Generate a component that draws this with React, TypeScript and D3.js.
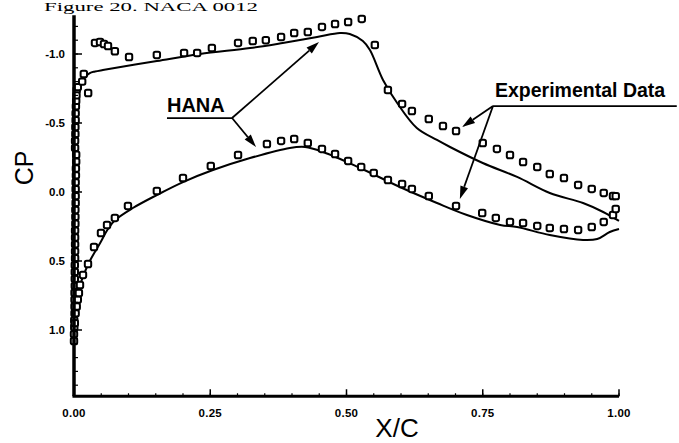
import React from "react";
import * as d3 from "d3";

// ---------- data ----------
// HANA computation, upper surface (suction side)
const hanaUpperX = [0, 0.001, 0.002, 0.004, 0.007, 0.013, 0.02, 0.029, 0.0385, 0.053, 0.152, 0.231, 0.323, 0.383, 0.446, 0.488, 0.506, 0.53, 0.543, 0.567, 0.593, 0.629, 0.666, 0.69, 0.75, 0.813, 0.873, 0.934, 0.971, 1.0];
const hanaUpperCp = [1.0, 0.42, -0.087, -0.52, -0.7, -0.78, -0.833, -0.862, -0.873, -0.884, -0.949, -1.0, -1.043, -1.08, -1.123, -1.152, -1.145, -1.094, -1.029, -0.812, -0.645, -0.464, -0.377, -0.326, -0.21, -0.109, 0.007, 0.08, 0.145, 0.21];
// HANA computation, lower surface
const hanaLowerX = [0, 0.002, 0.0055, 0.015, 0.029, 0.048, 0.062, 0.075, 0.108, 0.152, 0.2, 0.255, 0.323, 0.396, 0.424, 0.457, 0.525, 0.598, 0.666, 0.721, 0.782, 0.813, 0.873, 0.934, 0.96, 0.983, 1.0];
const hanaLowerCp = [1.0, 0.89, 0.76, 0.63, 0.50, 0.37, 0.27, 0.205, 0.116, 0.022, -0.072, -0.159, -0.246, -0.319, -0.326, -0.29, -0.174, -0.036, 0.08, 0.167, 0.239, 0.254, 0.312, 0.348, 0.341, 0.29, 0.268];

// Experimental data, upper surface: leading-edge cluster along the axis
const expUpperLEX = [0.0, 0.0, 0.0005, 0.0005, 0.001, 0.001, 0.001, 0.001, 0.0015, 0.0015, 0.0015, 0.0015, 0.002, 0.002, 0.002, 0.002, 0.002, 0.0025, 0.0025, 0.0025, 0.003, 0.003, 0.003, 0.003, 0.0035, 0.0035, 0.004, 0.004, 0.005, 0.007, 0.015, 0.018, 0.026];
const expUpperLECp = [1.08, 1.03, 0.98, 0.93, 0.88, 0.83, 0.78, 0.73, 0.68, 0.63, 0.58, 0.53, 0.48, 0.43, 0.38, 0.33, 0.28, 0.23, 0.18, 0.13, 0.08, 0.03, -0.02, -0.07, -0.12, -0.17, -0.22, -0.27, -0.74, -0.76, -0.8, -0.855, -0.717];
// extra suction-peak cluster close to the axis
const expUpperLE2X = [0.002, 0.002, 0.0025, 0.0025, 0.003, 0.003, 0.0035, 0.004, 0.0045];
const expUpperLE2Cp = [-0.32, -0.37, -0.42, -0.47, -0.52, -0.57, -0.62, -0.66, -0.70];
// Experimental data, upper surface downstream
const expUpperX = [0.0385, 0.0477, 0.055, 0.0624, 0.075, 0.101, 0.152, 0.202, 0.226, 0.253, 0.301, 0.328, 0.352, 0.38, 0.404, 0.429, 0.455, 0.479, 0.503, 0.528, 0.552, 0.576, 0.602, 0.62, 0.651, 0.677, 0.701, 0.75, 0.776, 0.8, 0.824, 0.85, 0.873, 0.899, 0.925, 0.95, 0.972, 0.989, 0.994];
const expUpperCp = [-1.08, -1.087, -1.072, -1.058, -1.02, -0.978, -0.993, -1.007, -1.007, -1.043, -1.08, -1.094, -1.1, -1.123, -1.152, -1.159, -1.196, -1.217, -1.232, -1.254, -1.065, -0.739, -0.638, -0.587, -0.529, -0.478, -0.442, -0.355, -0.312, -0.268, -0.217, -0.181, -0.13, -0.101, -0.051, -0.022, 0.007, 0.029, 0.03];

// Experimental data, lower surface
const expLowerX = [0.0015, 0.003, 0.005, 0.007, 0.009, 0.011, 0.0165, 0.0257, 0.0367, 0.0495, 0.0606, 0.075, 0.099, 0.152, 0.2, 0.251, 0.301, 0.354, 0.38, 0.404, 0.429, 0.455, 0.479, 0.503, 0.527, 0.55, 0.576, 0.602, 0.62, 0.651, 0.701, 0.749, 0.774, 0.8, 0.824, 0.85, 0.873, 0.899, 0.925, 0.95, 0.972, 0.989, 0.994];
const expLowerCp = [0.95, 0.88, 0.83, 0.78, 0.732, 0.674, 0.601, 0.522, 0.399, 0.297, 0.239, 0.188, 0.101, -0.007, -0.101, -0.188, -0.268, -0.348, -0.37, -0.384, -0.355, -0.312, -0.275, -0.225, -0.181, -0.138, -0.087, -0.058, -0.022, 0.029, 0.101, 0.152, 0.188, 0.217, 0.225, 0.246, 0.261, 0.268, 0.275, 0.254, 0.217, 0.167, 0.123];

// axes
const xTickValues = [0, 0.25, 0.5, 0.75, 1.0];
const xTickLabels = ["0.00", "0.25", "0.50", "0.75", "1.00"];
const yTickValues = [-1.0, -0.5, 0.0, 0.5, 1.0];
const yTickLabels = ["-1.0", "-0.5", "0.0", "0.5", "1.0"];

// annotation anchors (data units)
const hanaLabel = { x: 0.1706, cp: -0.58, text: "HANA" };
const hanaBar = { x0: 0.1706, x1: 0.29, cp: -0.536 };
const hanaTips = [{ x: 0.4495, cp: -1.087 }, { x: 0.334, cp: -0.326 }];
const expLabel = { x: 0.7725, cp: -0.688, text: "Experimental Data" };
const expBar = { x0: 0.7688, x1: 1.106, cp: -0.623 };
const expTips = [{ x: 0.712, cp: -0.471 }, { x: 0.708, cp: 0.051 }];
const caption = "Figure 20. NACA 0012";

const W = 679, H = 443;

export default function App() {
  const x = d3.scaleLinear().domain([0, 1]).range([74, 619]);
  const y = d3.scaleLinear().domain([-1, 1]).range([54, 330]);
  const yTop = -1.28, yBot = 1.48;

  const line = d3.line<[number, number]>()
    .x(d => x(d[0])).y(d => y(d[1]))
    .curve(d3.curveCatmullRom.alpha(0.5));

  const up = hanaUpperX.map((v, i) => [v, hanaUpperCp[i]] as [number, number]);
  const lo = hanaLowerX.map((v, i) => [v, hanaLowerCp[i]] as [number, number]);

  const pts: [number, number][] = [
    ...expUpperLEX.map((v, i) => [v, expUpperLECp[i]] as [number, number]),
    ...expUpperLE2X.map((v, i) => [v, expUpperLE2Cp[i]] as [number, number]),
    ...expUpperX.map((v, i) => [v, expUpperCp[i]] as [number, number]),
    ...expLowerX.map((v, i) => [v, expLowerCp[i]] as [number, number]),
  ];

  const xMinor = d3.range(0, 1.0001, 0.05);
  const yMinor = d3.range(-1.2, 1.41, 0.1);

  const arrow = (x0: number, y0: number, x1: number, y1: number, key: string) => {
    const dx = x1 - x0, dy = y1 - y0;
    const L = Math.hypot(dx, dy);
    const ux = dx / L, uy = dy / L;
    const hl = 13, hw = 4;
    const bx = x1 - ux * hl, by = y1 - uy * hl;
    const p = `M${bx + -uy * hw},${by + ux * hw}L${x1},${y1}L${bx - -uy * hw},${by - ux * hw}Z`;
    return (
      <g key={key}>
        <line x1={x0} y1={y0} x2={bx} y2={by} stroke="#000" strokeWidth={1.8} />
        <path d={p} fill="#000" />
      </g>
    );
  };

  const font = "'Liberation Sans', Arial, Helvetica, sans-serif";

  return (
    <svg width={W} height={H} style={{ position: "absolute", left: 0, top: 0, background: "#fff" }}
      xmlns="http://www.w3.org/2000/svg">
      <rect width={W} height={H} fill="#fff" />
      {/* caption (top of the scanned page) */}
      <text x={44} y={11} fontFamily="'Liberation Serif', 'Times New Roman', serif" fontSize={13}
        textLength={214} lengthAdjust="spacingAndGlyphs" fill="#000">
        {caption}
      </text>

      {/* HANA lines */}
      <path d={line(up) || ""} fill="none" stroke="#000" strokeWidth={2} />
      <path d={line(lo) || ""} fill="none" stroke="#000" strokeWidth={2} />

      {/* experimental points */}
      {pts.map((d, i) => (
        <rect key={i} x={x(d[0]) - 3.2} y={y(d[1]) - 3.2} width={6.4} height={6.4} rx={1.8}
          fill="#fff" stroke="#000" strokeWidth={2} />
      ))}

      {/* axes */}
      <line x1={x(0)} y1={y(yTop)} x2={x(0)} y2={y(yBot)} stroke="#000" strokeWidth={3.5} />
      <line x1={x(0) - 1.5} y1={y(yBot)} x2={x(1)} y2={y(yBot)} stroke="#000" strokeWidth={3} />
      {xMinor.map((v, i) => (
        <line key={"xm" + i} x1={x(v)} x2={x(v)} y1={y(yBot)} y2={y(yBot) - 3} stroke="#000" strokeWidth={1.2} />
      ))}
      {xTickValues.map((v, i) => (
        <g key={"xt" + i}>
          <line x1={x(v)} x2={x(v)} y1={y(yBot)} y2={y(yBot) - 7} stroke="#000" strokeWidth={1.5} />
          <text x={x(v)} y={y(yBot) + 21} textAnchor="middle" fontFamily={font} fontWeight="bold" fontSize={11.5}
            letterSpacing={0.3} fill="#000">{xTickLabels[i]}</text>
        </g>
      ))}
      {yMinor.map((v, i) => (
        <line key={"ym" + i} x1={x(0)} x2={x(0) + 4} y1={y(v)} y2={y(v)} stroke="#000" strokeWidth={1.2} />
      ))}
      {yTickValues.map((v, i) => (
        <g key={"yt" + i}>
          <line x1={x(0)} x2={x(0) + 8} y1={y(v)} y2={y(v)} stroke="#000" strokeWidth={1.5} />
          <text x={65} y={y(v) + 4} textAnchor="end" fontFamily={font} fontWeight="bold" fontSize={11.5}
            fill="#000">{yTickLabels[i]}</text>
        </g>
      ))}

      {/* axis titles */}
      <text transform={`translate(33,168) rotate(-90)`} textAnchor="middle" fontFamily={font} fontSize={25} fill="#000">CP</text>
      <text x={397} y={437} textAnchor="middle" fontFamily={font} fontSize={26} fill="#000">X/C</text>

      {/* annotations */}
      <text x={x(hanaLabel.x)} y={y(hanaLabel.cp)} fontFamily={font} fontWeight="bold" fontSize={20} fill="#000">{hanaLabel.text}</text>
      <line x1={x(hanaBar.x0)} x2={x(hanaBar.x1)} y1={y(hanaBar.cp)} y2={y(hanaBar.cp)} stroke="#000" strokeWidth={1.8} />
      {hanaTips.map((t, i) => arrow(x(hanaBar.x1), y(hanaBar.cp), x(t.x), y(t.cp), "ha" + i))}

      <text x={x(expLabel.x)} y={y(expLabel.cp)} fontFamily={font} fontWeight="bold" fontSize={19.5} fill="#000">{expLabel.text}</text>
      <line x1={x(expBar.x0)} x2={x(expBar.x1)} y1={y(expBar.cp)} y2={y(expBar.cp)} stroke="#000" strokeWidth={1.8} />
      {expTips.map((t, i) => arrow(x(expBar.x0), y(expBar.cp), x(t.x), y(t.cp), "ea" + i))}
    </svg>
  );
}
